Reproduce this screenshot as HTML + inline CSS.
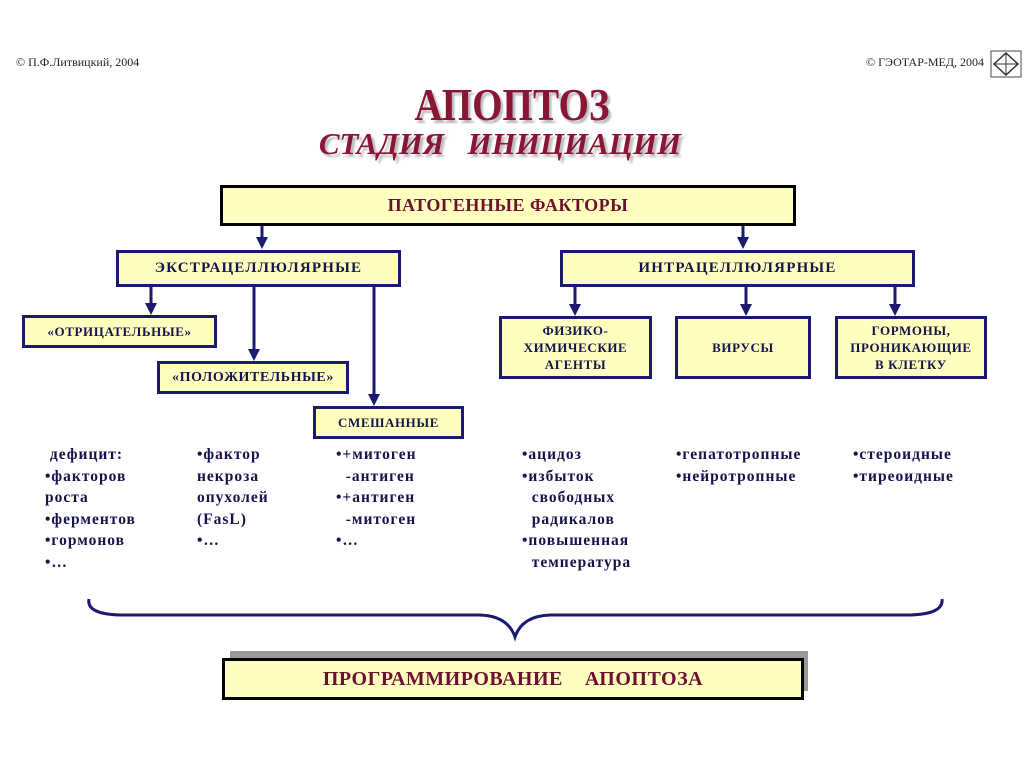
<!DOCTYPE html>
<html><head><meta charset="utf-8"><style>
body{margin:0;width:1024px;height:767px;background:#fff;position:relative;overflow:hidden;font-family:"Liberation Serif",serif}
.a{position:absolute}
.box{position:absolute;background:#ffffc0;border:3px solid #1a1a70;box-sizing:border-box;display:flex;align-items:center;justify-content:center;text-align:center;color:#14144a;font-weight:bold;font-size:13px;line-height:17px;letter-spacing:0.6px}
.t{position:absolute;color:#14144a;font-weight:bold;font-size:15.5px;line-height:21.5px;white-space:pre;letter-spacing:1px}
</style></head><body>
<div class="a" style="left:16px;top:55px;font-size:12px;color:#222">© П.Ф.Литвицкий, 2004</div>
<div class="a" style="left:866px;top:55px;font-size:12px;color:#222">© ГЭОТАР-МЕД, 2004</div>
<svg class="a" style="left:990px;top:50px" width="32" height="28"><rect x="1" y="1" width="30" height="26" fill="#fff" stroke="#444"/><path d="M16 3 L28 14 L16 25 L4 14Z" fill="none" stroke="#333" stroke-width="1.5"/><path d="M4 14H28M16 3V25" stroke="#333"/></svg>
<div class="a" style="left:0;width:1024px;top:78px;text-align:center;font-size:46px;font-weight:bold;color:#8a1636;text-shadow:3px 3px 2px #bbb;transform:scaleX(0.85)">АПОПТОЗ</div>
<div class="a" style="left:0;width:1000px;top:126px;text-align:center;font-size:31px;font-weight:bold;font-style:italic;color:#8a1636;text-shadow:3px 3px 2px #bbb;white-space:pre">СТАДИЯ   ИНИЦИАЦИИ</div>
<div class="box" style="left:220px;top:185px;width:576px;height:41px;border-color:#000;color:#6b1030;font-size:18px;letter-spacing:0.5px">ПАТОГЕННЫЕ ФАКТОРЫ</div>
<div class="box" style="left:116px;top:250px;width:285px;height:37px;font-size:15px;letter-spacing:1.2px">ЭКСТРАЦЕЛЛЮЛЯРНЫЕ</div>
<div class="box" style="left:560px;top:250px;width:355px;height:37px;font-size:15px;letter-spacing:1.2px">ИНТРАЦЕЛЛЮЛЯРНЫЕ</div>
<div class="box" style="left:22px;top:315px;width:195px;height:33px">«ОТРИЦАТЕЛЬНЫЕ»</div>
<div class="box" style="left:157px;top:361px;width:192px;height:33px;font-size:14px">«ПОЛОЖИТЕЛЬНЫЕ»</div>
<div class="box" style="left:313px;top:406px;width:151px;height:33px">СМЕШАННЫЕ</div>
<div class="box" style="left:499px;top:316px;width:153px;height:63px">ФИЗИКО-<br>ХИМИЧЕСКИЕ<br>АГЕНТЫ</div>
<div class="box" style="left:675px;top:316px;width:136px;height:63px">ВИРУСЫ</div>
<div class="box" style="left:835px;top:316px;width:152px;height:63px">ГОРМОНЫ,<br>ПРОНИКАЮЩИЕ<br>В КЛЕТКУ</div>
<svg class="a" style="left:0;top:0" width="1024" height="767">
<defs><marker id="m" markerWidth="4" markerHeight="4" refX="2" refY="2" orient="auto"><path d="M0 0L4 2L0 4Z" fill="#1a1a70"/></marker></defs>
<g stroke="#1a1a70" stroke-width="3" marker-end="url(#m)">
<line x1="262" y1="226" x2="262" y2="243"/><line x1="743" y1="226" x2="743" y2="243"/>
<line x1="151" y1="287" x2="151" y2="309"/><line x1="254" y1="287" x2="254" y2="355"/><line x1="374" y1="287" x2="374" y2="400"/>
<line x1="575" y1="287" x2="575" y2="310"/><line x1="746" y1="287" x2="746" y2="310"/><line x1="895" y1="287" x2="895" y2="310"/>
</g>
<path d="M89 599 Q86 614 120 615 L480 615 Q508 616 515 637 Q522 616 550 615 L910 615 Q944 614 942 599" fill="none" stroke="#1a1a70" stroke-width="3"/>
</svg>
<div class="a" style="left:230px;top:651px;width:578px;height:40px;background:#999"></div>
<div class="box" style="left:222px;top:658px;width:582px;height:42px;border-color:#000;color:#6b1030;font-size:20px;font-weight:normal;white-space:pre;letter-spacing:0.5px"><b>ПРОГРАММИРОВАНИЕ    АПОПТОЗА</b></div>
<div class="t" style="left:45px;top:444px"> дефицит:
•факторов
роста
•ферментов
•гормонов
•…</div>
<div class="t" style="left:197px;top:444px">•фактор
некроза
опухолей
(FasL)
•…</div>
<div class="t" style="left:336px;top:444px">•+митоген
  -антиген
•+антиген
  -митоген
•…</div>
<div class="t" style="left:522px;top:444px">•ацидоз
•избыток
  свободных
  радикалов
•повышенная
  температура</div>
<div class="t" style="left:676px;top:444px">•гепатотропные
•нейротропные</div>
<div class="t" style="left:853px;top:444px">•стероидные
•тиреоидные</div>
</body></html>
